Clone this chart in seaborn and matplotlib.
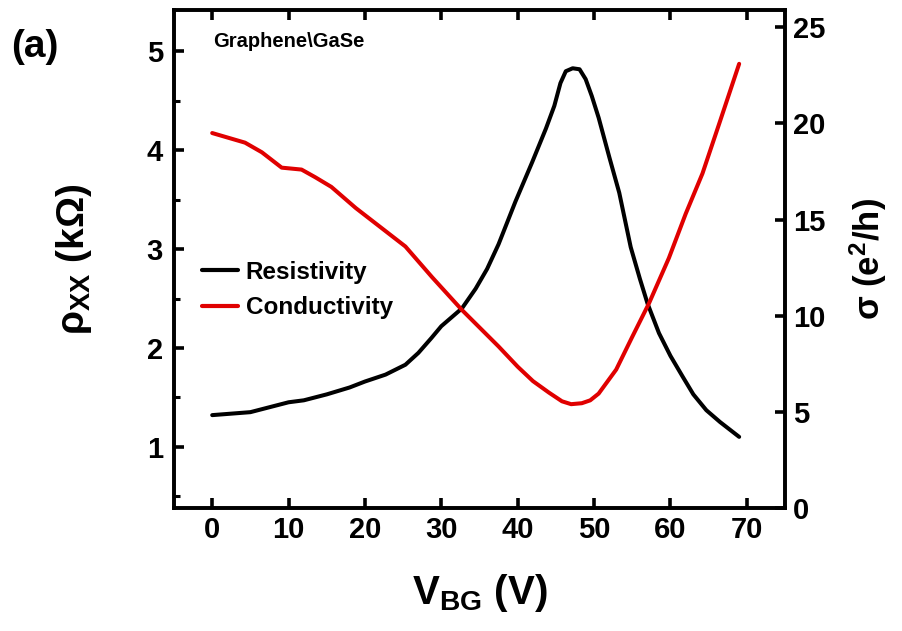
import numpy as np
import pandas as pd
import seaborn as sns
import matplotlib.pyplot as plt
from matplotlib.ticker import MultipleLocator
from matplotlib.lines import Line2D

# resistivity (left axis, kOhm)
v_res = [0, 5, 10, 12, 15, 18, 20, 22.7, 25.3, 27, 28.7, 30, 32.7, 34.5, 36,
         37.5, 39.7, 41.9, 43.7, 44.8, 45.6, 46.3, 47.2, 48.1, 48.9, 49.7, 50.6,
         52, 53.3, 54.8, 56, 57, 58.5, 60, 61.6, 63, 64.7, 66.5, 69]
rho = [1.32, 1.35, 1.45, 1.47, 1.53, 1.60, 1.66, 1.73, 1.83, 1.95, 2.10, 2.22,
       2.40, 2.60, 2.80, 3.05, 3.48, 3.88, 4.22, 4.45, 4.68, 4.80, 4.83, 4.82,
       4.72, 4.55, 4.33, 3.93, 3.57, 3.02, 2.70, 2.45, 2.15, 1.92, 1.71, 1.53,
       1.37, 1.25, 1.10]

# conductivity (right axis, e^2/h)
v_cond = [0, 4.3, 6.5, 9.1, 11.7, 13.5, 15.6, 18.8, 21.4, 25.3, 28.8, 32.7,
          37.5, 40, 42, 44.1, 45.8, 47, 48.4, 49.5, 50.6, 52.9, 55, 57.2, 59.8,
          62, 64.2, 66.4, 69]
sigma = [19.5, 19.0, 18.5, 17.7, 17.6, 17.2, 16.7, 15.6, 14.8, 13.6, 12.0, 10.3,
         8.4, 7.35, 6.6, 6.0, 5.55, 5.4, 5.45, 5.6, 5.95, 7.2, 8.9, 10.65, 13.0,
         15.3, 17.4, 20.0, 23.1]

df_res = pd.DataFrame({'V': v_res, 'rho': rho})
df_cond = pd.DataFrame({'V': v_cond, 'sigma': sigma})

sns.set_style("ticks", {'axes.edgecolor': 'black', 'text.color': 'black',
                        'xtick.color': 'black', 'ytick.color': 'black',
                        'axes.labelcolor': 'black'})
plt.rcParams['font.family'] = ['Liberation Sans', 'DejaVu Sans']
plt.rcParams['font.weight'] = 'bold'
plt.rcParams['mathtext.fontset'] = 'custom'
plt.rcParams['mathtext.rm'] = 'Liberation Sans:bold'
plt.rcParams['mathtext.it'] = 'Liberation Sans:bold'
plt.rcParams['mathtext.bf'] = 'Liberation Sans:bold'
plt.rcParams['axes.linewidth'] = 2.6

fig = plt.figure(figsize=(9.03, 6.31), dpi=100)
ax = fig.add_axes([0.1927, 0.1949, 0.6766, 0.7893])
ax2 = ax.twinx()

sns.lineplot(data=df_res, x='V', y='rho', ax=ax, color='black', lw=2.9)
sns.lineplot(data=df_cond, x='V', y='sigma', ax=ax2, color='#e00000', lw=2.9)

ax.set_xlim(-5, 75)
ax.set_ylim(0.38, 5.42)
ax2.set_ylim(0, 25.9)

ax.xaxis.set_major_locator(MultipleLocator(10))
ax.yaxis.set_major_locator(MultipleLocator(1))
ax.yaxis.set_minor_locator(MultipleLocator(0.5))
ax2.yaxis.set_major_locator(MultipleLocator(5))

tick_font = 21
ax.tick_params(axis='x', which='major', direction='in', length=7, width=2.6,
               top=True, labelsize=tick_font, pad=6)
ax.tick_params(axis='y', which='major', direction='in', length=7, width=2.6,
               labelsize=tick_font, pad=8)
ax.tick_params(axis='y', which='minor', direction='in', length=4, width=2.2)
ax2.tick_params(axis='y', which='major', direction='in', length=7, width=2.6,
                labelsize=tick_font, pad=6)

ax.set_xlabel(r'$\mathrm{V_{BG}}$ (V)', fontsize=29, fontweight='bold', labelpad=20)
ax.set_ylabel(r'$\mathrm{\rho_{XX}}$ (k$\mathrm{\Omega}$)', fontsize=28,
              fontweight='bold', labelpad=38)
ax2.set_ylabel(r'$\mathrm{\sigma}$ (e$\mathrm{^{2}}$/h)', fontsize=25,
               fontweight='bold', labelpad=16)

handles = [Line2D([], [], color='black', lw=3), Line2D([], [], color='#e00000', lw=3)]
ax.legend(handles, ['Resistivity', 'Conductivity'], loc='upper left',
          bbox_to_anchor=(0.01, 0.54), frameon=False, fontsize=17.5,
          handlelength=1.5, handletextpad=0.3, labelspacing=0.5)

ax.text(0.064, 0.955, 'Graphene\\GaSe', transform=ax.transAxes, fontsize=14.5,
        fontweight='bold', va='top', ha='left')
fig.text(0.012, 0.925, '(a)', fontsize=28, fontweight='bold', ha='left', va='center')

fig.patch.set_alpha(1)
fig.savefig('out.png', dpi=100)
